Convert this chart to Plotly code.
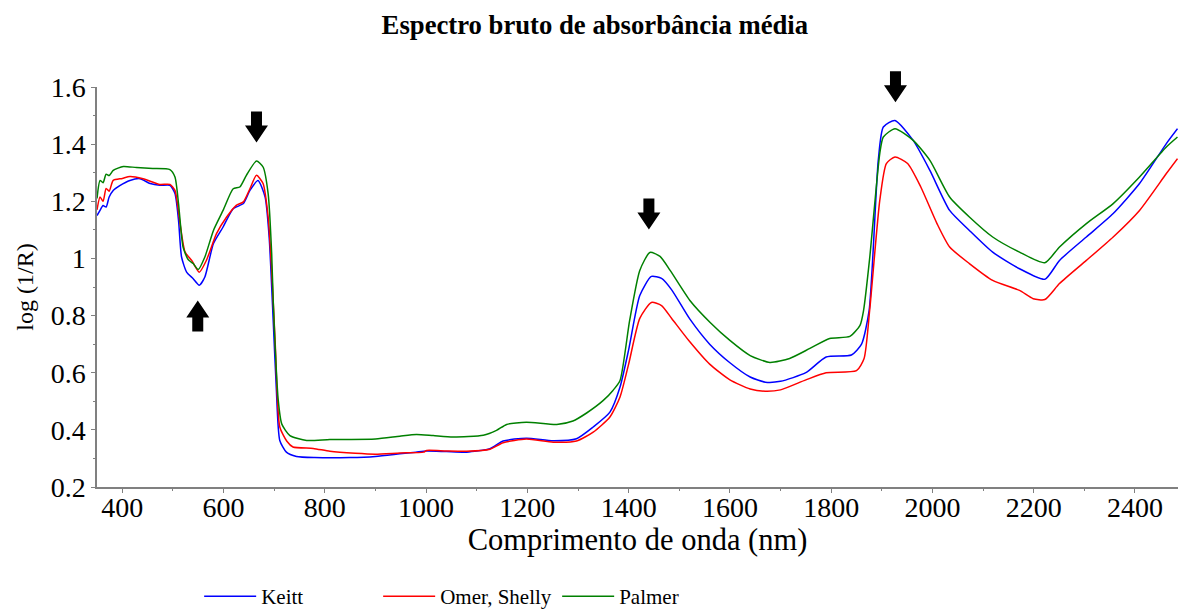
import plotly.graph_objects as go

# ---------------- data ----------------
keitt_nm = [350, 356, 362, 368, 374, 382, 395, 415, 435, 455, 474, 494, 504, 511, 517, 527, 540, 552, 563,
            580, 599, 619, 639, 652, 668, 682, 690, 698, 704, 711, 724, 744, 780, 850, 900, 948, 980, 1001,
            1040, 1080, 1126, 1152, 1198, 1251, 1297, 1330, 1363, 1383, 1400, 1422, 1445, 1465, 1485, 1520,
            1560, 1600, 1640, 1670, 1700, 1750, 1790, 1840, 1860, 1875, 1893, 1903, 1926, 1962, 1995, 2034,
            2073, 2119, 2172, 2222, 2251, 2304, 2357, 2409, 2462, 2484]
keitt_abs = [1.150, 1.168, 1.185, 1.180, 1.215, 1.238, 1.255, 1.273, 1.279, 1.262, 1.256, 1.256, 1.227, 1.133,
             1.005, 0.952, 0.929, 0.906, 0.935, 1.052, 1.110, 1.174, 1.192, 1.238, 1.273, 1.215, 1.075, 0.783,
             0.550, 0.363, 0.322, 0.307, 0.303, 0.303, 0.307, 0.316, 0.322, 0.326, 0.324, 0.322, 0.334, 0.361,
             0.371, 0.362, 0.369, 0.410, 0.462, 0.550, 0.680, 0.870, 0.937, 0.930, 0.890, 0.790, 0.700, 0.635,
             0.585, 0.567, 0.570, 0.600, 0.655, 0.662, 0.700, 0.818, 1.343, 1.460, 1.483, 1.413, 1.308, 1.168,
             1.098, 1.022, 0.964, 0.927, 0.993, 1.075, 1.157, 1.262, 1.402, 1.454]

omer_nm = [350, 356, 362, 368, 374, 382, 400, 415, 441, 474, 494, 504, 514, 524, 537, 552, 566, 586, 606, 625,
           639, 652, 665, 678, 688, 695, 702, 711, 725, 737, 777, 810, 860, 900, 948, 995, 1001, 1040, 1080,
           1126, 1152, 1198, 1251, 1297, 1330, 1363, 1383, 1400, 1422, 1445, 1465, 1485, 1520, 1560, 1600,
           1640, 1670, 1700, 1750, 1790, 1850, 1865, 1876, 1896, 1909, 1926, 1951, 1977, 2009, 2034, 2073,
           2119, 2172, 2199, 2222, 2251, 2304, 2357, 2409, 2462, 2484]
omer_abs = [1.170, 1.215, 1.200, 1.245, 1.235, 1.273, 1.280, 1.287, 1.279, 1.259, 1.259, 1.238, 1.122, 1.022,
            0.993, 0.952, 0.993, 1.087, 1.145, 1.186, 1.198, 1.244, 1.291, 1.262, 1.145, 0.958, 0.700, 0.410,
            0.360, 0.340, 0.335, 0.325, 0.318, 0.315, 0.319, 0.322, 0.328, 0.326, 0.325, 0.332, 0.355, 0.368,
            0.357, 0.361, 0.392, 0.445, 0.515, 0.630, 0.790, 0.846, 0.835, 0.790, 0.710, 0.630, 0.575, 0.543,
            0.535, 0.540, 0.575, 0.600, 0.607, 0.650, 0.818, 1.203, 1.332, 1.355, 1.332, 1.250, 1.122, 1.040,
            0.982, 0.923, 0.888, 0.859, 0.856, 0.912, 0.993, 1.075, 1.168, 1.297, 1.349]

palmer_nm = [350, 356, 362, 368, 374, 382, 402, 428, 460, 494, 504, 511, 520, 530, 540, 550, 563, 580, 599,
             619, 632, 645, 665, 678, 688, 695, 698, 708, 715, 731, 764, 810, 900, 948, 981, 1014, 1053, 1113,
             1139, 1159, 1198, 1258, 1290, 1317, 1350, 1369, 1383, 1402, 1422, 1442, 1462, 1482, 1521, 1561,
             1600, 1640, 1679, 1718, 1758, 1797, 1837, 1857, 1864, 1876, 1896, 1903, 1926, 1962, 1995, 2034,
             2073, 2119, 2172, 2222, 2251, 2304, 2357, 2409, 2462, 2484]
palmer_abs = [1.210, 1.273, 1.265, 1.295, 1.290, 1.308, 1.322, 1.318, 1.315, 1.311, 1.285, 1.192, 1.040, 0.996,
              0.982, 0.961, 1.005, 1.098, 1.168, 1.244, 1.250, 1.291, 1.341, 1.320, 1.227, 1.017, 0.853, 0.503,
              0.420, 0.380, 0.363, 0.366, 0.368, 0.378, 0.384, 0.380, 0.375, 0.381, 0.398, 0.419, 0.427, 0.419,
              0.431, 0.459, 0.503, 0.538, 0.573, 0.783, 0.958, 1.021, 1.007, 0.958, 0.853, 0.776, 0.713, 0.660,
              0.636, 0.650, 0.685, 0.720, 0.727, 0.766, 0.818, 1.000, 1.368, 1.425, 1.454, 1.413, 1.343, 1.215,
              1.145, 1.075, 1.022, 0.985, 1.040, 1.122, 1.192, 1.285, 1.390, 1.425]

series_names = ["Keitt", "Omer, Shelly", "Palmer"]
series_colors = ["#0000ff", "#ff0000", "#008000"]

# arrow annotations: (wavelength, value at arrow tip, direction)
arrow_nm = [549, 665, 1440, 1927]
arrow_tip = [0.853, 1.406, 1.101, 1.547]
arrow_dir = ["up", "down", "down", "down"]

x_ticks = [400, 600, 800, 1000, 1200, 1400, 1600, 1800, 2000, 2200, 2400]
X_RANGE = [350, 2485]
Y_RANGE = [0.2, 1.6]

# ---------------- figure ----------------
FONT = "Liberation Serif"
fig = go.Figure()
for xs, ys, name, col in zip([keitt_nm, omer_nm, palmer_nm],
                             [keitt_abs, omer_abs, palmer_abs],
                             series_names, series_colors):
    fig.add_trace(go.Scatter(x=xs, y=ys, mode="lines", name=name,
                             line=dict(color=col, width=1.5, shape="spline", smoothing=0.6)))

# block arrows, drawn in pixel units anchored at the arrow tip
hw_head, hw_shaft, l_head, l_tot = 11.5, 5.5, 17, 31
for xv, yv, d in zip(arrow_nm, arrow_tip, arrow_dir):
    s = 1 if d == "down" else -1
    pts = [(0, 0), (-hw_head, s * l_head), (-hw_shaft, s * l_head), (-hw_shaft, s * l_tot),
           (hw_shaft, s * l_tot), (hw_shaft, s * l_head), (hw_head, s * l_head)]
    path = "M" + " L".join(f"{px},{py}" for px, py in pts) + " Z"
    y_frac = (yv - Y_RANGE[0]) / (Y_RANGE[1] - Y_RANGE[0])  # paper ref so the top arrow is not clipped
    fig.add_shape(type="path", path=path, xref="x", yref="paper",
                  xsizemode="pixel", ysizemode="pixel", xanchor=xv, yanchor=y_frac,
                  fillcolor="black", line=dict(color="black", width=0))

fig.update_layout(
    width=1178, height=610,
    margin=dict(l=97, r=0, t=87, b=123),
    paper_bgcolor="white", plot_bgcolor="white",
    font=dict(family=FONT, color="black"),
    title=dict(text="<b>Espectro bruto de absorbância média</b>", x=0.505, xanchor="center",
               y=0.959, yanchor="middle", yref="container", font=dict(size=26.7, family=FONT)),
    showlegend=True,
    legend=dict(orientation="h", x=0.0945, xanchor="left", yref="container", y=0.022, yanchor="middle",
                font=dict(size=21, family=FONT), entrywidth=112, entrywidthmode="pixels",
                bgcolor="rgba(0,0,0,0)", itemwidth=52),
)
fig.update_xaxes(range=X_RANGE, tickvals=x_ticks, showgrid=False, zeroline=False,
                 showline=True, linecolor="#808080", linewidth=1.5,
                 ticks="outside", ticklen=4, tickcolor="#808080", ticklabelstandoff=-9,
                 minor=dict(dtick=100, tick0=0, ticks="outside", ticklen=2, tickcolor="#808080"),
                 tickfont=dict(size=28, family=FONT),
                 title=dict(text="Comprimento de onda (nm)", font=dict(size=30.5, family=FONT), standoff=4))
fig.update_yaxes(range=Y_RANGE, dtick=0.2, tick0=0.2, showgrid=False, zeroline=False,
                 showline=True, linecolor="#808080", linewidth=1.5,
                 ticks="outside", ticklen=4, tickcolor="#808080",
                 minor=dict(dtick=0.1, ticks="outside", ticklen=2, tickcolor="#808080"),
                 tickfont=dict(size=28, family=FONT),
                 title=dict(text="log (1/R)", font=dict(size=24, family=FONT), standoff=10))

fig.write_html("out.html")
